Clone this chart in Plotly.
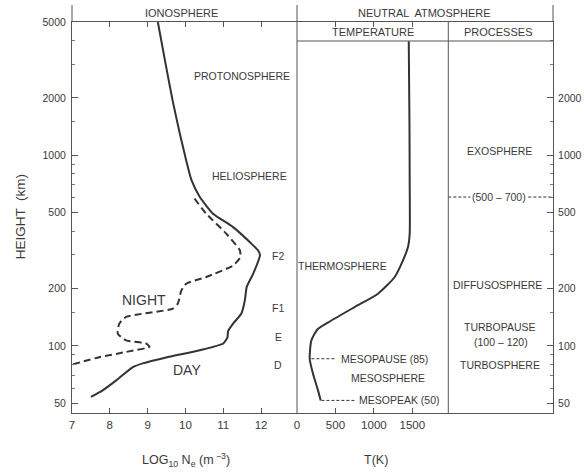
import numpy as np
import plotly.graph_objects as go

# ---------------- data ----------------
day_log_ne = [9.27, 9.49, 9.66, 9.85, 10.02, 10.16, 10.38, 10.73, 11.26, 11.79, 11.93, 11.97,
              11.79, 11.62, 11.57, 11.48, 11.26, 11.13, 11.11, 11.0, 10.38, 9.49, 8.87, 8.61,
              8.17, 7.81, 7.50]
day_km = [5000, 2906, 1941, 1301, 940, 740, 604, 494, 420, 337, 315, 299,
          239, 204, 173, 148, 131, 120, 111, 103, 95, 87, 81, 77.5,
          66, 58.5, 54]

night_log_ne = [10.24, 10.55, 11.08, 11.44, 11.45, 11.26, 10.55, 10.02, 9.89, 9.80, 9.67,
                8.43, 8.25, 8.21, 8.43, 8.96, 9.05, 8.43, 7.72, 7.02]
night_km = [592, 494, 388, 317, 292, 264, 230, 212, 195, 167, 157,
            142, 131, 116, 107, 103, 99, 93, 87.3, 80]

temp_k = [1453, 1462, 1465, 1465, 1443, 1378, 1270, 1053, 750, 447, 273, 187, 165, 208, 273, 308]
temp_km = [3960, 1500, 739, 388, 330, 281, 230, 188, 160, 136, 123, 107, 85.7, 71.4, 58.5, 51.8]

ne_ticks = [7, 8, 9, 10, 11, 12]
t_ticks = [0, 500, 1000, 1500]
height_ticks_left = [50, 100, 200, 500, 1000, 2000, 5000]
height_ticks_right = [50, 100, 200, 500, 1000, 2000]
height_minor = [60, 70, 80, 90, 150, 300, 400, 600, 700, 800, 900, 1500, 3000, 4000]

iono_labels = ["PROTONOSPHERE", "HELIOSPHERE", "F2", "F1", "E", "D"]
iono_label_x = [11.49, 11.69, 12.46, 12.46, 12.46, 12.46]
iono_label_km = [2594, 775, 295, 158, 111, 79]

profile_labels = ["NIGHT", "DAY"]
profile_label_x = [8.90, 10.05]
profile_label_km = [175, 75]

temp_labels = ["THERMOSPHERE", "MESOPAUSE (85)", "MESOSPHERE", "MESOPEAK (50)"]
temp_label_x = [594, 1139, 1179, 1335]
temp_label_km = [262, 85.7, 67.6, 51.8]
temp_leader_km = [85.7, 51.8]
temp_leader_x0 = [187, 317]
temp_leader_x1 = [512, 750]

proc_labels = ["EXOSPHERE", "(500 – 700)", "DIFFUSOSPHERE", "TURBOPAUSE", "(100 – 120)", "TURBOSPHERE"]
proc_label_x = [0.49, 0.48, 0.47, 0.49, 0.50, 0.49]
proc_label_km = [1049, 604, 210, 126, 105, 79]
exobase_km = 604

# ---------------- figure ----------------
ink = "#333333"
txt = "#3a3a3a"
font_main = "Liberation Sans, Arial, sans-serif"

yrange = [np.log10(44.5), np.log10(5000)]
d1 = 0.4678
d2 = 0.7823

fig = go.Figure()
fig.add_trace(go.Scatter(x=day_log_ne, y=day_km, mode="lines", xaxis="x", yaxis="y",
                         line=dict(color=ink, width=2, shape="spline", smoothing=0.5),
                         showlegend=False, hoverinfo="skip"))
fig.add_trace(go.Scatter(x=night_log_ne, y=night_km, mode="lines", xaxis="x", yaxis="y",
                         line=dict(color=ink, width=2, dash="7px,4px", shape="spline", smoothing=0.5),
                         showlegend=False, hoverinfo="skip"))
fig.add_trace(go.Scatter(x=temp_k, y=temp_km, mode="lines", xaxis="x2", yaxis="y",
                         line=dict(color=ink, width=2, shape="spline", smoothing=0.6),
                         showlegend=False, hoverinfo="skip"))
for km, a, b in zip(temp_leader_km, temp_leader_x0, temp_leader_x1):
    fig.add_trace(go.Scatter(x=[a, b], y=[km, km], mode="lines", xaxis="x2", yaxis="y",
                             line=dict(color=ink, width=1, dash="3px,2px"),
                             showlegend=False, hoverinfo="skip"))
fig.add_trace(go.Scatter(x=[0, 1], y=[exobase_km, exobase_km], mode="lines", xaxis="x3", yaxis="y2",
                         line=dict(color=ink, width=1, dash="3px,2px"),
                         showlegend=False, hoverinfo="skip"))

axis_common = dict(showgrid=False, zeroline=False, showline=True, linecolor="#555", linewidth=1,
                   mirror="ticks", ticks="inside", tickcolor="#555", ticklen=5,
                   ticklabelstandoff=1, automargin=False,
                   tickfont=dict(family=font_main, size=11.5, color=txt))

fig.update_layout(
    width=584, height=474,
    margin=dict(l=72, r=31, t=22, b=61, autoexpand=False),
    paper_bgcolor="white", plot_bgcolor="white",
    xaxis=dict(domain=[0, d1], range=[7, 12.95], tickvals=ne_ticks, anchor="y", **axis_common),
    xaxis2=dict(domain=[d1, d2], range=[0, 1967], tickvals=t_ticks, anchor="y", **axis_common),
    xaxis3=dict(domain=[d2, 1], range=[0, 1], showgrid=False, zeroline=False, showline=True,
                linecolor="#555", linewidth=1, mirror=True, ticks="", showticklabels=False,
                anchor="y", automargin=False),
    yaxis=dict(type="log", range=yrange, anchor="x", tickvals=height_ticks_left,
               ticktext=[str(v) for v in height_ticks_left],
               showgrid=False, zeroline=False, showline=True, linecolor="#555", linewidth=1,
               ticks="inside", ticklen=6, tickcolor="#555", ticklabelstandoff=3, automargin=False,
               minor=dict(tickvals=height_minor, ticks="inside", ticklen=3, tickcolor="#777"),
               tickfont=dict(family=font_main, size=10.5, color=txt)),
    yaxis2=dict(type="log", range=yrange, overlaying="y", side="right", anchor="x3",
                tickvals=height_ticks_right, ticktext=[str(v) for v in height_ticks_right],
                showgrid=False, zeroline=False, showline=True, linecolor="#555", linewidth=1,
                ticks="inside", ticklen=6, tickcolor="#555", ticklabelstandoff=2, automargin=False,
                minor=dict(tickvals=height_minor, ticks="inside", ticklen=3, tickcolor="#777"),
                tickfont=dict(family=font_main, size=10.5, color=txt)),
)

ann = []
for t, x, km in zip(iono_labels, iono_label_x, iono_label_km):
    ann.append(dict(text=t, x=x, y=np.log10(km), xref="x", yref="y", showarrow=False,
                    xanchor="center", yanchor="middle",
                    font=dict(family=font_main, size=10.5, color=txt)))
for t, x, km in zip(profile_labels, profile_label_x, profile_label_km):
    ann.append(dict(text=t, x=x, y=np.log10(km), xref="x", yref="y", showarrow=False,
                    xanchor="center", yanchor="middle",
                    font=dict(family=font_main, size=14, color=txt)))
for t, x, km in zip(temp_labels, temp_label_x, temp_label_km):
    ann.append(dict(text=t, x=x, y=np.log10(km), xref="x2", yref="y", showarrow=False,
                    xanchor="center", yanchor="middle",
                    font=dict(family=font_main, size=10.5, color=txt)))
for t, x, km in zip(proc_labels, proc_label_x, proc_label_km):
    a = dict(text=t, x=x, y=np.log10(km), xref="x3", yref="y", showarrow=False,
             xanchor="center", yanchor="middle",
             font=dict(family=font_main, size=10.5, color=txt))
    if t.startswith("(500"):
        a["bgcolor"] = "white"
    ann.append(a)

# headers and axis titles
hdr = dict(family=font_main, size=11, color=txt)
def pa(text, x, y, font, **kw):
    d = dict(text=text, x=x, y=y, xref="paper", yref="paper", showarrow=False,
             xanchor="center", yanchor="middle", font=font)
    d.update(kw)
    return d

ann += [
    pa("IONOSPHERE", 0.228, 1.022, hdr),
    pa("NEUTRAL  ATMOSPHERE", 0.732, 1.022, hdr),
    pa("TEMPERATURE", 0.626, 0.9735, hdr),
    pa("PROCESSES", 0.886, 0.9735, hdr),
    pa("HEIGHT  (km)", -0.108, 0.501, dict(family=font_main, size=13.5, color=txt), textangle=-90),
    pa("LOG<sub>10</sub> N<sub>e</sub> (m<sup> −3</sup>)", 0.2375, -0.12,
       dict(family=font_main, size=12.5, color=txt)),
    pa("T(K)", 0.631, -0.12, dict(family=font_main, size=12.5, color=txt)),
]
fig.update_layout(annotations=ann)

line = dict(color="#555", width=1)
shapes = [
    dict(type="line", xref="paper", yref="paper", x0=0, x1=0, y0=1, y1=1.0435, line=line),
    dict(type="line", xref="paper", yref="paper", x0=d1, x1=d1, y0=0, y1=1.0435, line=line),
    dict(type="line", xref="paper", yref="paper", x0=1, x1=1, y0=1, y1=1.0435, line=line),
    dict(type="line", xref="paper", yref="paper", x0=d2, x1=d2, y0=0, y1=1, line=line),
    dict(type="line", xref="paper", yref="paper", x0=d1, x1=1, y0=0.9514, y1=0.9514, line=line),
]
fig.update_layout(shapes=shapes)

fig.write_html("out.html")
